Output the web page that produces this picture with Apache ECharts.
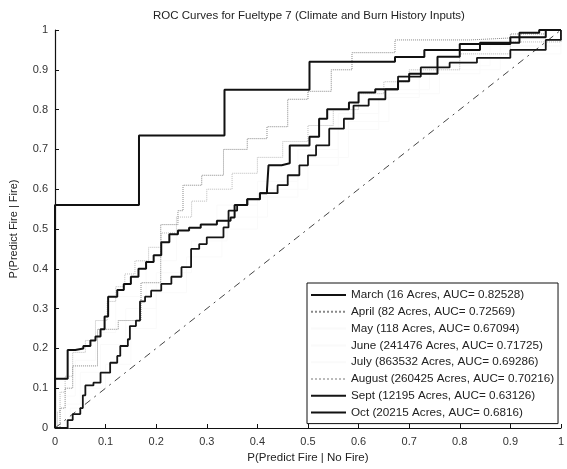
<!DOCTYPE html>
<html>
<head>
<meta charset="utf-8">
<script src="https://cdn.jsdelivr.net/npm/echarts@6/dist/echarts.min.js"></script>
<style>
  html, body { margin: 0; padding: 0; background: #fff; }
  #chart { width: 567px; height: 469px; }
</style>
</head>
<body>
<div id="chart"></div>
<script>
const xTicks = [0, 0.1, 0.2, 0.3, 0.4, 0.5, 0.6, 0.7, 0.8, 0.9, 1]

const seriesNames = [
  'March (16 Acres, AUC= 0.82528)',
  'April (82 Acres, AUC= 0.72569)',
  'May (118 Acres, AUC= 0.67094)',
  'June (241476 Acres, AUC= 0.71725)',
  'July (863532 Acres, AUC= 0.69286)',
  'August (260425 Acres, AUC= 0.70216)',
  'Sept (12195 Acres, AUC= 0.63126)',
  'Oct (20215 Acres, AUC= 0.6816)'
]

// step points: [fpr where the step happens, new tpr]
const march = [[0, 0], [0, 0.56], [0.166, 0.735], [0.335, 0.85], [0.503, 0.92], [0.672, 0.932],
  [0.73, 0.95], [0.8, 0.965], [0.9, 0.982], [0.97, 1], [1, 1]]

const april = [[0, 0], [0.01, 0.05], [0.02, 0.1], [0.035, 0.156], [0.084, 0.248], [0.125, 0.27],
  [0.17, 0.365], [0.209, 0.511], [0.243, 0.546], [0.253, 0.61], [0.29, 0.635], [0.333, 0.7],
  [0.38, 0.727], [0.419, 0.757], [0.46, 0.826], [0.5, 0.846], [0.546, 0.9], [0.587, 0.943],
  [0.672, 0.975], [0.82, 0.98], [0.9, 0.99], [0.97, 1], [1, 1]]

const may = [[0, 0], [0.03, 0.05], [0.06, 0.1], [0.1, 0.16], [0.15, 0.25], [0.2, 0.34], [0.26, 0.43],
  [0.33, 0.5], [0.4, 0.58], [0.48, 0.66], [0.56, 0.75], [0.64, 0.83], [0.72, 0.89], [0.84, 0.94], [1, 1]]

const june = [[0, 0], [0.01, 0.08], [0.04, 0.17], [0.08, 0.24], [0.12, 0.33], [0.18, 0.42], [0.24, 0.5],
  [0.32, 0.56], [0.4, 0.62], [0.48, 0.7], [0.56, 0.79], [0.64, 0.85], [0.74, 0.91], [0.86, 0.96], [1, 1]]

const july = [[0, 0], [0.02, 0.06], [0.05, 0.14], [0.09, 0.21], [0.14, 0.3], [0.2, 0.39], [0.27, 0.47],
  [0.34, 0.53], [0.42, 0.6], [0.5, 0.68], [0.58, 0.77], [0.66, 0.84], [0.76, 0.9], [0.88, 0.96], [1, 1]]

const august = [[0, 0], [0.005, 0.04], [0.01, 0.09], [0.02, 0.13], [0.035, 0.19], [0.06, 0.22],
  [0.08, 0.27], [0.103, 0.318], [0.12, 0.355], [0.138, 0.387], [0.158, 0.42], [0.185, 0.454],
  [0.21, 0.49], [0.24, 0.53], [0.27, 0.57], [0.3, 0.6], [0.35, 0.64], [0.4, 0.68], [0.45, 0.72],
  [0.5, 0.76], [0.55, 0.8], [0.6, 0.84], [0.65, 0.87], [0.7, 0.9], [0.8, 0.94], [0.9, 0.97], [1, 1]]

const sept = [[0, 0], [0.025, 0.02], [0.035, 0.035], [0.05, 0.05], [0.055, 0.082], [0.06, 0.107],
  [0.076, 0.114], [0.09, 0.139], [0.109, 0.164], [0.123, 0.181], [0.129, 0.206], [0.144, 0.223],
  [0.148, 0.256], [0.16, 0.27], [0.168, 0.318], [0.178, 0.33], [0.19, 0.345], [0.21, 0.362],
  [0.23, 0.38], [0.25, 0.404], [0.269, 0.45], [0.285, 0.462], [0.3, 0.479], [0.333, 0.504],
  [0.343, 0.546], [0.36, 0.56], [0.38, 0.575], [0.405, 0.59], [0.44, 0.61], [0.46, 0.635],
  [0.483, 0.66], [0.5, 0.685], [0.516, 0.71], [0.542, 0.752], [0.571, 0.777], [0.59, 0.81],
  [0.62, 0.826], [0.653, 0.851], [0.678, 0.883], [0.723, 0.906], [0.78, 0.918], [0.834, 0.93],
  [0.9, 0.95], [0.97, 0.975], [1, 1]]

const oct = [[0, 0], [0, 0.124], [0.025, 0.196], [0.04, 0.2], [0.056, 0.206], [0.07, 0.22],
  [0.08, 0.23], [0.09, 0.248], [0.098, 0.28], [0.105, 0.33], [0.123, 0.347], [0.136, 0.362],
  [0.15, 0.38], [0.165, 0.4], [0.18, 0.417], [0.195, 0.434], [0.21, 0.467], [0.226, 0.487],
  [0.243, 0.496], [0.265, 0.503], [0.288, 0.511], [0.32, 0.521], [0.347, 0.529], [0.355, 0.56],
  [0.38, 0.575], [0.405, 0.59], [0.419, 0.598], [0.422, 0.66], [0.448, 0.665], [0.464, 0.71],
  [0.503, 0.732], [0.522, 0.777], [0.538, 0.801], [0.581, 0.818], [0.6, 0.843], [0.633, 0.851],
  [0.678, 0.871], [0.7, 0.89], [0.756, 0.933], [0.8, 0.95], [0.84, 0.968], [0.918, 0.993],
  [0.957, 1], [1, 1]]

const chance = [[0, 0], [1, 1]]

const font = 'Liberation Sans, Arial, sans-serif'
const chart = echarts.init(document.getElementById('chart'))

function roc(name, data, color, width, type, z) {
  return {
    name,
    type: 'line',
    data,
    step: 'end',
    symbol: 'none',
    z,
    lineStyle: { color, width, type },
    itemStyle: { color }
  }
}

chart.setOption({
  animation: false,
  backgroundColor: '#fff',
  title: {
    text: 'ROC Curves for Fueltype 7 (Climate and Burn History Inputs)',
    left: 304,
    textAlign: 'center',
    top: 5,
    textStyle: { fontFamily: font, fontSize: 11.5, fontWeight: 'normal', color: '#222' }
  },
  grid: { left: 52, right: 2, top: 30, bottom: 36 },
  legend: {
    data: seriesNames,
    orient: 'vertical',
    left: 307,
    top: 283,
    padding: [6, 4, 5, 3],
    itemWidth: 35,
    itemHeight: 12,
    itemGap: 4.8,
    itemStyle: { opacity: 0 },
    borderColor: '#111',
    borderWidth: 1,
    backgroundColor: '#fff',
    textStyle: { fontFamily: font, fontSize: 11.7, color: '#222' }
  },
  xAxis: {
    type: 'value',
    min: 0,
    max: 1,
    interval: 0.1,
    name: 'P(Predict Fire | No Fire)',
    nameLocation: 'middle',
    nameGap: 24,
    nameTextStyle: { fontFamily: font, fontSize: 11.5, color: '#222' },
    axisLine: { lineStyle: { color: '#111', width: 1.2 } },
    axisTick: { inside: true, length: 4, lineStyle: { color: '#111' } },
    axisLabel: { fontFamily: font, fontSize: 11, color: '#333', margin: 8 },
    splitLine: { show: false }
  },
  yAxis: {
    type: 'value',
    min: 0,
    max: 1,
    interval: 0.1,
    name: 'P(Predict Fire | Fire)',
    nameLocation: 'middle',
    nameGap: 36,
    nameTextStyle: { fontFamily: font, fontSize: 11, color: '#222' },
    axisLine: { lineStyle: { color: '#111', width: 1.2 } },
    axisTick: { inside: true, length: 4, lineStyle: { color: '#111' } },
    axisLabel: { fontFamily: font, fontSize: 11, color: '#333', margin: 7 },
    splitLine: { show: false }
  },
  series: [
    roc(seriesNames[0], march, '#111', 2, 'solid', 6),
    roc(seriesNames[1], april, '#888', 1, 'dotted', 4),
    roc(seriesNames[2], may, '#fafafa', 1, 'solid', 1),
    roc(seriesNames[3], june, '#fafafa', 1, 'solid', 1),
    roc(seriesNames[4], july, '#fafafa', 1, 'solid', 1),
    roc(seriesNames[5], august, '#bbb', 1, 'dotted', 2),
    roc(seriesNames[6], sept, '#151515', 1.8, 'solid', 5),
    roc(seriesNames[7], oct, '#111', 2, 'solid', 5),
    {
      type: 'line',
      data: chance,
      symbol: 'none',
      z: 3,
      lineStyle: { color: '#444', width: 1, type: [7, 5, 2, 5] }
    }
  ]
})
</script>
</body>
</html>
